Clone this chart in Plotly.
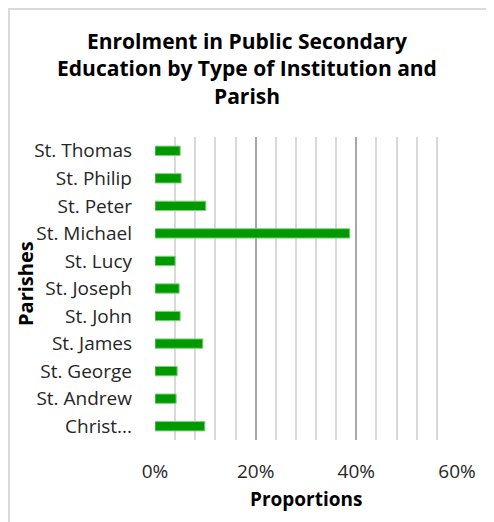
import plotly.graph_objects as go

parishes = ["Christ Church", "St. Andrew", "St. George", "St. James", "St. John",
            "St. Joseph", "St. Lucy", "St. Michael", "St. Peter", "St. Philip", "St. Thomas"]
parish_labels = ["Christ...", "St. Andrew", "St. George", "St. James", "St. John",
                 "St. Joseph", "St. Lucy", "St. Michael", "St. Peter", "St. Philip", "St. Thomas"]
proportions = [0.099, 0.042, 0.044, 0.095, 0.050, 0.048, 0.040, 0.387, 0.101, 0.052, 0.050]
x_ticks = [0, 0.2, 0.4, 0.6]
x_ticklabels = ["0%", "20%", "40%", "60%"]

W, H = 494, 522
OFF = 8  # the page body has an 8px margin, so shift everything back by it
L, T = 155 - OFF, 137 - OFF
pw, ph = 302, 303
R, B = W - L - pw, H - T - ph

font = "Open Sans, sans-serif"


def px_x(x):  # reference pixel -> paper x
    return (x - OFF - L) / pw


def px_y(y):  # reference pixel -> paper y
    return (T + ph - (y - OFF)) / ph


fig = go.Figure(go.Bar(
    x=proportions, y=parishes, orientation="h",
    marker=dict(color="#009900", line=dict(color="#7fd17f", width=1)),
))

fig.update_layout(
    width=W, height=H,
    margin=dict(l=L, r=R, t=T, b=B, autoexpand=False),
    paper_bgcolor="white", plot_bgcolor="white",
    showlegend=False,
    bargap=0.66,
    font=dict(family=font, size=19, color="#262626"),
    title=dict(
        text="<b>Enrolment in Public Secondary<br>Education by Type of Institution and<br>Parish</b>",
        x=(247 - OFF) / W, xanchor="center", y=1 - (49 - OFF) / H, yanchor="top",
        font=dict(family=font, size=21, color="#000000"),
    ),
    xaxis=dict(
        range=[0, 0.6], tickvals=x_ticks, ticktext=x_ticklabels,
        showgrid=True, gridcolor="#a6a6a6", gridwidth=2,
        minor=dict(dtick=0.04, showgrid=True, gridcolor="#d9d9d9", gridwidth=2),
        zeroline=False, showline=False, ticks="",
        ticklabelstandoff=18, automargin=False,
    ),
    yaxis=dict(
        categoryorder="array", categoryarray=parishes,
        tickvals=parishes, ticktext=parish_labels,
        showgrid=False, zeroline=False, showline=False, ticks="",
        ticklabelstandoff=22, automargin=False,
    ),
    annotations=[
        dict(text="<b>Proportions</b>", xref="paper", yref="paper",
             x=px_x(306), y=px_y(499), showarrow=False,
             xanchor="center", yanchor="middle",
             font=dict(family=font, size=19, color="#000000")),
        dict(text="<b>Parishes</b>", xref="paper", yref="paper",
             x=px_x(25), y=px_y(284), showarrow=False, textangle=-90,
             xanchor="center", yanchor="middle",
             font=dict(family=font, size=20, color="#000000")),
    ],
    # chart-area border (left/top edges only are visible in the reference)
    shapes=[dict(
        type="rect", xref="paper", yref="paper",
        x0=px_x(OFF + 1), x1=px_x(W + 20),
        y0=px_y(H + 20), y1=px_y(OFF + 1),
        line=dict(color="#d9d9d9", width=2), fillcolor="rgba(0,0,0,0)",
    )],
)

fig.write_html("out.html")
